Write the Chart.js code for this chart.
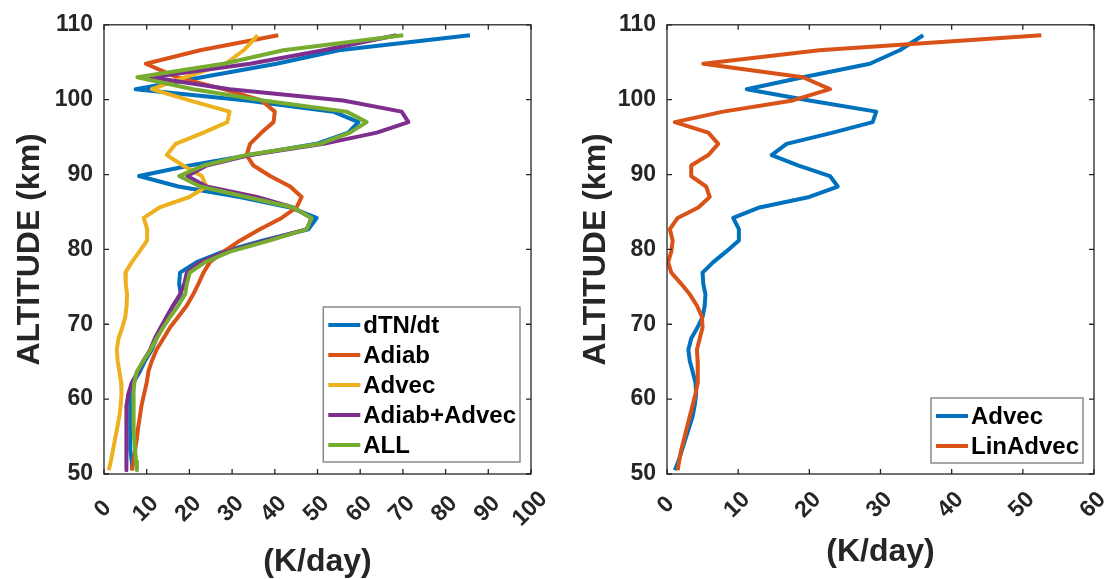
<!DOCTYPE html>
<html>
<head>
<meta charset="utf-8">
<script src="https://cdn.jsdelivr.net/npm/chart.js@4.4.0/dist/chart.umd.min.js"></script>
<style>
    html, body { margin: 0; padding: 0; background: #fff; }
    #wrap { position: relative; width: 1112px; height: 579px; }
    .panel { position: absolute; top: 0; width: 556px; height: 579px; }
    #left { left: 0; }
    #right { left: 556px; }
</style>
</head>
<body>
<div id="wrap">
    <div class="panel" id="left"><canvas id="chartLeft"></canvas></div>
    <div class="panel" id="right"><canvas id="chartRight"></canvas></div>
</div>
<script>
// altitude levels (km), top to bottom
const altitude = [108.6, 106.6, 104.8, 103.0, 101.4, 99.9, 98.4, 97.0, 95.6, 94.1,
    92.6, 91.2, 89.8, 88.4, 87.0, 85.6, 84.2, 82.7, 81.2, 79.7,
    78.3, 76.9, 75.4, 74.0, 72.5, 71.0, 69.6, 68.1, 66.6, 65.1,
    63.7, 62.2, 60.7, 59.2, 57.7, 56.2, 54.7, 53.2, 51.7, 50.5];

// heating rates (K/day)
const dTNdt = [85.7, 55.0, 40.4, 22.9, 7.4, 33.4, 53.7, 59.6, 57.2, 49.8,
    34.2, 20.1, 8.2, 17.4, 31.8, 43.6, 49.8, 47.9, 37.3, 27.9,
    21.7, 17.8, 17.6, 18.0, 16.2, 14.7, 13.5, 12.3, 11.2, 9.6,
    8.4, 6.9, 6.2, 6.1, 6.1, 6.1, 6.2, 6.3, 6.5, 6.6];
const adiab = [40.8, 22.5, 9.8, 17.0, 28.0, 36.9, 40.0, 39.7, 36.9, 34.2,
    33.4, 35.0, 38.9, 43.6, 46.3, 45.1, 41.6, 36.5, 31.9, 28.0,
    24.8, 23.3, 22.1, 20.9, 19.4, 17.4, 15.5, 13.9, 12.3, 11.2,
    10.4, 10.0, 9.4, 8.8, 8.4, 8.0, 7.7, 7.3, 6.9, 6.5];
const advec = [36.0, 32.7, 28.5, 19.1, 11.2, 20.0, 29.4, 28.9, 23.3, 16.8,
    14.7, 18.5, 22.9, 24.0, 20.0, 13.0, 9.3, 10.1, 10.1, 8.3,
    6.5, 5.0, 5.1, 5.4, 5.3, 5.0, 4.3, 3.4, 3.0, 3.2,
    3.6, 4.0, 4.1, 3.9, 3.6, 3.1, 2.6, 2.1, 1.6, 1.1];
const adiabAdvec = [68.5, 51.4, 34.2, 10.9, 29.5, 56.0, 69.7, 71.3, 63.9, 51.4,
    34.2, 24.0, 19.5, 24.0, 35.8, 44.3, 48.6, 47.5, 38.1, 28.7,
    22.5, 19.4, 18.8, 17.8, 16.2, 14.7, 13.3, 11.9, 10.8, 9.2,
    8.0, 6.5, 5.7, 5.3, 5.3, 5.3, 5.3, 5.2, 5.2, 5.2];
const allTerms = [70.1, 42.0, 28.0, 7.8, 20.9, 37.3, 56.8, 61.5, 57.6, 50.6,
    33.4, 23.3, 17.6, 22.5, 33.4, 44.3, 48.6, 47.5, 38.9, 29.5,
    23.7, 20.1, 19.4, 19.0, 17.4, 15.5, 13.9, 12.3, 10.9, 9.2,
    7.7, 7.1, 6.9, 6.9, 6.9, 7.0, 7.1, 7.3, 7.5, 7.7];
const linAdvec = [52.6, 21.4, 5.1, 19.1, 22.9, 17.7, 7.9, 1.1, 5.8, 7.2,
    5.8, 3.4, 3.4, 5.5, 6.0, 4.4, 1.5, 0.4, 0.8, 0.6,
    0.15, 0.6, 2.0, 3.2, 4.2, 4.9, 5.0, 4.6, 4.2, 4.3,
    4.35, 4.3, 4.0, 3.6, 3.2, 2.8, 2.4, 2.0, 1.7, 1.5];

const altTicks = [50, 60, 70, 80, 90, 100, 110];
const leftXTicks = [0, 10, 20, 30, 40, 50, 60, 70, 80, 90, 100];
const rightXTicks = [0, 10, 20, 30, 40, 50, 60];

const FONT = "'Liberation Sans', Arial, Helvetica, sans-serif";
const AXIS_COLOR = '#262626';
const C_BLUE = '#0072BD', C_ORANGE = '#D95319', C_YELLOW = '#EDB120',
      C_PURPLE = '#7E2F8E', C_GREEN = '#77AC30';

const toPoints = vals => vals.map((v, i) => ({ x: v, y: altitude[i] }));

// box, inward ticks, rotated x labels and the legend, MATLAB style
const matlabAxes = {
    id: 'matlabAxes',
    afterDraw(chart, args, opts) {
        const { ctx, chartArea: a, scales: { x, y } } = chart;
        ctx.save();
        ctx.strokeStyle = AXIS_COLOR;
        ctx.lineWidth = 1.3;
        ctx.strokeRect(a.left, a.top, a.right - a.left, a.bottom - a.top);
        ctx.beginPath();
        x.ticks.forEach(t => {
            const px = x.getPixelForValue(t.value);
            ctx.moveTo(px, a.bottom); ctx.lineTo(px, a.bottom - 5);
            ctx.moveTo(px, a.top); ctx.lineTo(px, a.top + 5);
        });
        y.ticks.forEach(t => {
            const py = y.getPixelForValue(t.value);
            ctx.moveTo(a.left, py); ctx.lineTo(a.left + 5, py);
            ctx.moveTo(a.right, py); ctx.lineTo(a.right - 5, py);
        });
        ctx.stroke();

        ctx.fillStyle = AXIS_COLOR;
        ctx.font = 'bold 23px ' + FONT;
        ctx.textAlign = 'center';
        ctx.textBaseline = 'middle';
        x.ticks.forEach(t => {
            const px = x.getPixelForValue(t.value);
            ctx.save();
            ctx.translate(px - 1, a.bottom + opts.labelDrop);
            ctx.rotate(-Math.PI / 4);
            ctx.fillText(String(t.value), 0, 0);
            ctx.restore();
        });

        const ds = chart.data.datasets;
        ctx.font = 'bold 24px ' + FONT;
        const textW = Math.max(...ds.map(d => ctx.measureText(d.label).width));
        const w = 44 + textW, h = ds.length * 30 + 5;
        const bx = a.right - 11 - w, by = a.bottom - opts.legendBottom - h;
        ctx.fillStyle = '#fff';
        ctx.fillRect(bx, by, w, h);
        ctx.strokeStyle = '#8a8a8a';
        ctx.lineWidth = 1.5;
        ctx.strokeRect(bx, by, w, h);
        ds.forEach((d, i) => {
            const cy = by + 18 + i * 30;
            ctx.strokeStyle = d.borderColor;
            ctx.lineWidth = 4;
            ctx.beginPath();
            ctx.moveTo(bx + 5, cy); ctx.lineTo(bx + 37, cy);
            ctx.stroke();
            ctx.fillStyle = '#000';
            ctx.textAlign = 'left';
            ctx.fillText(d.label, bx + 40, cy + 1);
        });
        ctx.restore();
    }
};

const line = (label, vals, color, order) => ({
    label: label,
    data: toPoints(vals),
    borderColor: color,
    backgroundColor: color,
    borderWidth: 4,
    borderJoinStyle: 'round',
    showLine: true,
    pointRadius: 0,
    tension: 0,
    order: order
});

const makeChart = (id, datasets, xTicks, opt) => new Chart(document.getElementById(id), {
    type: 'scatter',
    data: { datasets: datasets },
    options: {
        responsive: true,
        maintainAspectRatio: false,
        animation: false,
        layout: { padding: { top: 18, right: opt.padRight, left: 0, bottom: 0 } },
        plugins: {
            legend: { display: false },
            tooltip: { enabled: false },
            matlabAxes: { labelDrop: opt.labelDrop, legendBottom: opt.legendBottom }
        },
        scales: {
            x: {
                type: 'linear',
                min: xTicks[0],
                max: xTicks[xTicks.length - 1],
                grid: { display: false, drawTicks: false },
                border: { display: false },
                ticks: { display: false },
                afterBuildTicks: s => { s.ticks = xTicks.map(v => ({ value: v })); },
                afterFit: s => { s.height = 105; },
                title: {
                    display: true, text: '(K/day)', color: AXIS_COLOR,
                    font: { family: FONT, size: 32, weight: 'bold', lineHeight: 1 },
                    padding: { top: 0, bottom: opt.xTitlePad }
                }
            },
            y: {
                type: 'linear',
                min: altTicks[0],
                max: altTicks[altTicks.length - 1],
                grid: { display: false, drawTicks: false },
                border: { display: false },
                ticks: { color: AXIS_COLOR, padding: 11, font: { family: FONT, size: 23, weight: 'bold' } },
                afterBuildTicks: s => { s.ticks = altTicks.map(v => ({ value: v })); },
                afterFit: s => { s.width = opt.yWidth; },
                title: {
                    display: true, text: 'ALTITUDE (km)', color: AXIS_COLOR,
                    font: { family: FONT, size: 32, weight: 'bold', lineHeight: 1.2 },
                    padding: { top: opt.yTitlePad, bottom: 0 }
                }
            }
        }
    },
    plugins: [matlabAxes]
});

document.addEventListener("DOMContentLoaded", () => {
    makeChart('chartLeft', [
        line('dTN/dt', dTNdt, C_BLUE, 5),
        line('Adiab', adiab, C_ORANGE, 4),
        line('Advec', advec, C_YELLOW, 3),
        line('Adiab+Advec', adiabAdvec, C_PURPLE, 2),
        line('ALL', allTerms, C_GREEN, 1)
    ], leftXTicks, { padRight: 25, yWidth: 104, yTitlePad: 11, xTitlePad: 1, labelDrop: 35, legendBottom: 12 });

    makeChart('chartRight', [
        line('Advec', advec, C_BLUE, 2),
        line('LinAdvec', linAdvec, C_ORANGE, 1)
    ], rightXTicks, { padRight: 18, yWidth: 111, yTitlePad: 21, xTitlePad: 11, labelDrop: 31, legendBottom: 11 });
});
</script>
</body>
</html>
